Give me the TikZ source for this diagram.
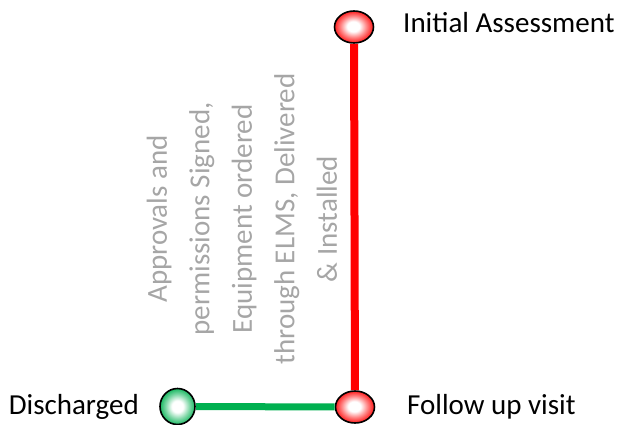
\documentclass[tikz,border=0pt]{standalone}
\usepackage{fontspec}
\setmainfont{Carlito}
\usetikzlibrary{shapes.geometric}
\definecolor{stepred}{HTML}{FF0000}
\definecolor{stepgreen}{HTML}{00B050}
\definecolor{notegray}{HTML}{A6A6A6}
\pgfdeclareradialshading{redglow}{\pgfpoint{-1bp}{1bp}}{color(0bp)=(white); color(8bp)=(white);
  color(17bp)=(stepred!50); color(25bp)=(stepred!90); color(50bp)=(stepred!90)}
\pgfdeclareradialshading{greenglow}{\pgfpoint{0bp}{0bp}}{color(0bp)=(white); color(8bp)=(white);
  color(17bp)=(stepgreen!50); color(25bp)=(stepgreen!90); color(50bp)=(stepgreen!90)}
\tikzset{
  redstop/.style={ellipse, draw=black, line width=1.6pt, inner sep=0pt,
    minimum width=39pt, minimum height=32pt, shading=redglow},
  greenstop/.style={ellipse, draw=black, line width=1.6pt, inner sep=0pt,
    minimum width=35pt, minimum height=36pt, shading=greenglow},
  stoplabel/.style={anchor=base west, inner sep=0pt, font=\fontsize{29}{34}\selectfont},
}
\begin{document}
\begin{tikzpicture}[x=1pt,y=-1pt]
\useasboundingbox (0,0) rectangle (621,425);

\node[redstop] (assess) at (354,27) {};
\node[redstop] (followup) at (355,407) {};
\node[greenstop] (discharged) at (177.5,406.5) {};

\draw[stepred, line width=8pt] (assess) -- (followup);
\draw[stepgreen, line width=7pt] (discharged) -- (followup);

\node[stoplabel] (assesslabel) at (403,33) {Initial Assessment};
\node[stoplabel] (followlabel) at (407,414) {Follow up visit};
\node[stoplabel, anchor=base east] (dischargedlabel) at (139,414) {Discharged};

\node[rotate=90, align=center, inner sep=0pt, text=notegray,
  font=\fontsize{29}{42.5}\selectfont] (note) at (242,219)
  {Approvals and\\permissions Signed,\\Equipment ordered\\through ELMS, Delivered\\\& Installed};
\end{tikzpicture}
\end{document}
